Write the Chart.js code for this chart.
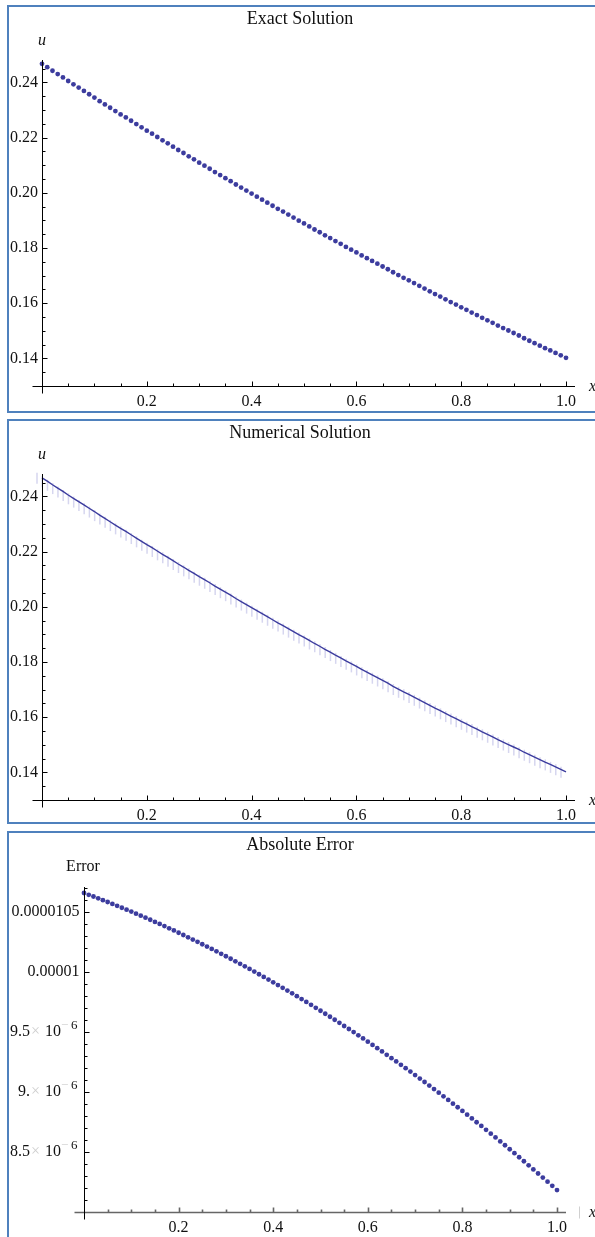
<!DOCTYPE html>
<html>
<head>
<meta charset="utf-8">
<script src="https://cdn.jsdelivr.net/npm/chart.js@4.4.1/dist/chart.umd.min.js"></script>
<style>
  body { margin: 0; background: #fff; }
  #page { position: relative; width: 595px; height: 1237px; overflow: hidden; }
  .box { position: absolute; left: 7px; width: 600px; border: 2px solid #4f81bd; box-sizing: border-box; }
  canvas { position: absolute; left: 0; }
</style>
</head>
<body>
<div id="page">
  <div class="box" style="top:5px;height:408px"></div>
  <div class="box" style="top:419px;height:405px"></div>
  <div class="box" style="top:831px;height:420px"></div>
  <canvas id="c1" width="595" height="413" style="top:0"></canvas>
  <canvas id="c2" width="595" height="410" style="top:414px"></canvas>
  <canvas id="c3" width="595" height="411" style="top:826px"></canvas>
</div>
<script>
// x grid of the plotted points
const xs = [0.00,0.01,0.02,0.03,0.04,0.05,0.06,0.07,0.08,0.09,
  0.10,0.11,0.12,0.13,0.14,0.15,0.16,0.17,0.18,0.19,
  0.20,0.21,0.22,0.23,0.24,0.25,0.26,0.27,0.28,0.29,
  0.30,0.31,0.32,0.33,0.34,0.35,0.36,0.37,0.38,0.39,
  0.40,0.41,0.42,0.43,0.44,0.45,0.46,0.47,0.48,0.49,
  0.50,0.51,0.52,0.53,0.54,0.55,0.56,0.57,0.58,0.59,
  0.60,0.61,0.62,0.63,0.64,0.65,0.66,0.67,0.68,0.69,
  0.70,0.71,0.72,0.73,0.74,0.75,0.76,0.77,0.78,0.79,
  0.80,0.81,0.82,0.83,0.84,0.85,0.86,0.87,0.88,0.89,
  0.90,0.91,0.92,0.93,0.94,0.95,0.96,0.97,0.98,0.99,1.00];

// exact solution u(x)
const exactU = [0.2467,0.2455,0.2442,0.2430,0.2418,0.2405,0.2393,0.2381,0.2369,0.2357,
  0.2345,0.2332,0.2320,0.2308,0.2296,0.2284,0.2273,0.2261,0.2249,0.2237,
  0.2225,0.2214,0.2202,0.2190,0.2179,0.2167,0.2155,0.2144,0.2132,0.2121,
  0.2109,0.2098,0.2087,0.2075,0.2064,0.2053,0.2042,0.2030,0.2019,0.2008,
  0.1997,0.1986,0.1975,0.1964,0.1953,0.1942,0.1932,0.1921,0.1910,0.1899,
  0.1889,0.1878,0.1867,0.1857,0.1846,0.1836,0.1825,0.1815,0.1804,0.1794,
  0.1784,0.1773,0.1763,0.1753,0.1743,0.1733,0.1723,0.1712,0.1702,0.1692,
  0.1683,0.1673,0.1663,0.1653,0.1643,0.1633,0.1624,0.1614,0.1604,0.1595,
  0.1585,0.1576,0.1566,0.1557,0.1547,0.1538,0.1529,0.1519,0.1510,0.1501,
  0.1492,0.1483,0.1473,0.1464,0.1455,0.1446,0.1437,0.1429,0.1420,0.1411,0.1402];

// numerical solution (same as exact at this resolution)
const numericU = [0.2467,0.2455,0.2442,0.2430,0.2418,0.2405,0.2393,0.2381,0.2369,0.2357,
  0.2345,0.2332,0.2320,0.2308,0.2296,0.2284,0.2273,0.2261,0.2249,0.2237,
  0.2225,0.2214,0.2202,0.2190,0.2179,0.2167,0.2155,0.2144,0.2132,0.2121,
  0.2109,0.2098,0.2087,0.2075,0.2064,0.2053,0.2042,0.2030,0.2019,0.2008,
  0.1997,0.1986,0.1975,0.1964,0.1953,0.1942,0.1932,0.1921,0.1910,0.1899,
  0.1889,0.1878,0.1867,0.1857,0.1846,0.1836,0.1825,0.1815,0.1804,0.1794,
  0.1784,0.1773,0.1763,0.1753,0.1743,0.1733,0.1723,0.1712,0.1702,0.1692,
  0.1683,0.1673,0.1663,0.1653,0.1643,0.1633,0.1624,0.1614,0.1604,0.1595,
  0.1585,0.1576,0.1566,0.1557,0.1547,0.1538,0.1529,0.1519,0.1510,0.1501,
  0.1492,0.1483,0.1473,0.1464,0.1455,0.1446,0.1437,0.1429,0.1420,0.1411,0.1402];

// absolute error, in units of 1e-6
const errE6 = [10.658,10.643,10.629,10.614,10.598,10.583,10.567,10.551,10.535,10.519,
  10.503,10.486,10.469,10.452,10.435,10.417,10.400,10.382,10.364,10.346,
  10.327,10.308,10.289,10.270,10.251,10.231,10.212,10.192,10.172,10.151,
  10.131,10.110,10.089,10.068,10.047,10.025,10.003,9.981,9.959,9.937,
  9.914,9.891,9.868,9.845,9.822,9.798,9.774,9.750,9.726,9.701,
  9.677,9.652,9.627,9.602,9.576,9.550,9.525,9.499,9.472,9.446,
  9.419,9.392,9.365,9.338,9.310,9.282,9.255,9.226,9.198,9.170,
  9.141,9.112,9.083,9.053,9.024,8.994,8.964,8.934,8.903,8.873,
  8.842,8.811,8.780,8.748,8.717,8.685,8.653,8.621,8.588,8.556,
  8.523,8.490,8.456,8.423,8.389,8.355,8.321,8.287,8.253,8.218,8.183];

const xTicks = [0.2, 0.4, 0.6, 0.8, 1.0];
const uTicks = [0.14, 0.16, 0.18, 0.20, 0.22, 0.24];
const errTicks = [10.5, 10.0, 9.5, 9.0, 8.5];
const errTickText = ['0.0000105', '0.00001', '9.5', '9.', '8.5'];
const errTickPow = ['', '', '6', '6', '6'];

const SERIF = '"Liberation Serif", "DejaVu Serif", serif';
const DOT = '#3c3c9e';

function line(ctx, x1, y1, x2, y2) {
  ctx.beginPath(); ctx.moveTo(x1, y1); ctx.lineTo(x2, y2); ctx.stroke();
}

// Mathematica-like axes: inward ticks, minor ticks, labels at the axis ends
const mmaPlugin = {
  id: 'mma',
  beforeDatasetsDraw(chart, args, o) {
    if (!o.marks) return;
    const ctx = chart.ctx, sx = chart.scales.x, sy = chart.scales.y;
    ctx.save();
    ctx.strokeStyle = '#d6d6ef';
    ctx.lineWidth = 1.5;
    xs.forEach((xv, i) => {
      const px = sx.getPixelForValue(xv) - 5, py = sy.getPixelForValue(o.marks[i]);
      line(ctx, px, py - 5, px, py + 6);
    });
    ctx.restore();
  },
  afterDraw(chart, args, o) {
    const ctx = chart.ctx, a = chart.chartArea, sx = chart.scales.x, sy = chart.scales.y;
    const x0 = Math.round(sx.getPixelForValue(0)) + 0.5;
    const yb = Math.round(a.bottom) + 0.5;
    const xEnd = sx.getPixelForValue(1);
    ctx.save();
    ctx.strokeStyle = o.xAxisColor;
    ctx.lineWidth = o.xAxisWidth;
    line(ctx, x0 - 10, yb, xEnd + 9, yb);
    for (let k = 1; k <= 20; k++) {
      const px = Math.round(sx.getPixelForValue(k * 0.05)) + 0.5;
      line(ctx, px, yb, px, yb - (k % 4 === 0 ? 5 : 3));
    }
    ctx.strokeStyle = '#000';
    ctx.lineWidth = 1;
    line(ctx, x0, a.top, x0, yb + 7);
    const k0 = Math.ceil(sy.min / o.yStep + 0.5), k1 = Math.floor(sy.max / o.yStep + 1e-6);
    for (let k = k0; k <= k1; k++) {
      const v = k * o.yStep;
      const major = o.yMajor.some(t => Math.abs(t - v) < o.yStep / 10);
      const py = Math.round(sy.getPixelForValue(v)) + 0.5;
      line(ctx, x0, py, x0 + (major ? 5 : 3), py);
    }

    ctx.fillStyle = '#111';
    ctx.textBaseline = 'alphabetic';
    ctx.textAlign = 'center';
    ctx.font = '18px ' + SERIF;
    ctx.fillText(o.title, 300, 24);

    ctx.textBaseline = 'middle';
    ctx.font = (o.yItalic ? 'italic ' : '') + '16px ' + SERIF;
    ctx.fillText(o.yLabel, o.yLabelX, 41);
    ctx.font = 'italic 16px ' + SERIF;
    ctx.textAlign = 'left';
    ctx.fillText('x', 589, yb);
    if (o.boxBeforeX) {
      ctx.fillStyle = '#d0d0d0';
      ctx.fillRect(579, yb - 6, 1, 12);
      ctx.fillStyle = '#111';
    }

    if (o.errLabels) {
      errTicks.forEach((v, i) => {
        const py = sy.getPixelForValue(v);
        ctx.font = '16px ' + SERIF;
        if (!errTickPow[i]) {
          ctx.textAlign = 'right';
          ctx.fillText(errTickText[i], x0 - 5, py);
          return;
        }
        ctx.textAlign = 'right';
        ctx.fillText(errTickText[i], 30, py);
        ctx.textAlign = 'left';
        ctx.fillStyle = '#cfcfcf';
        ctx.fillText('\u00d7', 31, py);
        ctx.fillStyle = '#111';
        ctx.fillText('10', 45, py);
        ctx.font = '13px ' + SERIF;
        ctx.fillStyle = '#cfcfcf';
        ctx.fillText('\u2212', 61, py - 6);
        ctx.fillStyle = '#111';
        ctx.fillText(errTickPow[i], 71, py - 6);
      });
    }
    ctx.restore();
  }
};

function makePanel(id, p) {
  return new Chart(document.getElementById(id), {
    type: 'scatter',
    data: { datasets: p.datasets },
    options: {
      responsive: false,
      animation: false,
      events: [],
      layout: { padding: { left: 0, right: p.padRight, top: p.padTop, bottom: 0 } },
      plugins: { legend: { display: false }, tooltip: { enabled: false }, mma: p.mma },
      scales: {
        x: {
          type: 'linear', min: 0, max: 1,
          afterBuildTicks: s => { s.ticks = xTicks.map(v => ({ value: v })); },
          afterFit: s => { s.height = p.xAxisH; },
          grid: { display: false, drawTicks: false },
          border: { display: false },
          ticks: { autoSkip: false, maxRotation: 0, padding: 6, color: '#111',
                   font: { family: SERIF, size: 16 }, callback: v => v.toFixed(1) }
        },
        y: {
          type: 'linear', min: p.yMin, max: p.yMax,
          afterBuildTicks: s => { s.ticks = p.yTicks.map(v => ({ value: v })); },
          afterFit: s => { s.width = p.yAxisW; },
          grid: { display: false, drawTicks: false },
          border: { display: false },
          ticks: { display: p.yTickDisplay, autoSkip: false, padding: 4, color: '#111',
                   font: { family: SERIF, size: 16 }, callback: v => v.toFixed(2) }
        }
      }
    },
    plugins: [mmaPlugin]
  });
}

const pts = arr => xs.map((x, i) => ({ x: x, y: arr[i] }));

makePanel('c1', {
  padTop: 60, padRight: 29, xAxisH: 27, yAxisW: 42,
  yMin: 0.13, yMax: 0.2481, yTicks: uTicks, yTickDisplay: true,
  datasets: [{ data: pts(exactU), showLine: false, pointRadius: 2.4, pointBorderWidth: 0,
               pointBackgroundColor: DOT, clip: false }],
  mma: { title: 'Exact Solution', yLabel: 'u', yItalic: true, yLabelX: 42,
         xAxisColor: '#000', xAxisWidth: 1, yStep: 0.005, yMajor: uTicks }
});

makePanel('c2', {
  padTop: 60, padRight: 29, xAxisH: 24, yAxisW: 42,
  yMin: 0.13, yMax: 0.2481, yTicks: uTicks, yTickDisplay: true,
  datasets: [{ data: pts(numericU), showLine: true, borderColor: DOT, borderWidth: 1.4,
               pointRadius: 0, clip: false }],
  mma: { title: 'Numerical Solution', yLabel: 'u', yItalic: true, yLabelX: 42,
         xAxisColor: '#000', xAxisWidth: 1, yStep: 0.005, yMajor: uTicks, marks: numericU }
});

makePanel('c3', {
  padTop: 61, padRight: 38, xAxisH: 25, yAxisW: 84,
  yMin: 8.0, yMax: 10.708, yTicks: errTicks, yTickDisplay: false,
  datasets: [{ data: pts(errE6), showLine: false, pointRadius: 2.4, pointBorderWidth: 0,
               pointBackgroundColor: DOT, clip: false }],
  mma: { title: 'Absolute Error', yLabel: 'Error', yItalic: false, yLabelX: 83,
         xAxisColor: '#666', xAxisWidth: 1.6, yStep: 0.1, yMajor: errTicks,
         errLabels: true, boxBeforeX: true }
});
</script>
</body>
</html>
